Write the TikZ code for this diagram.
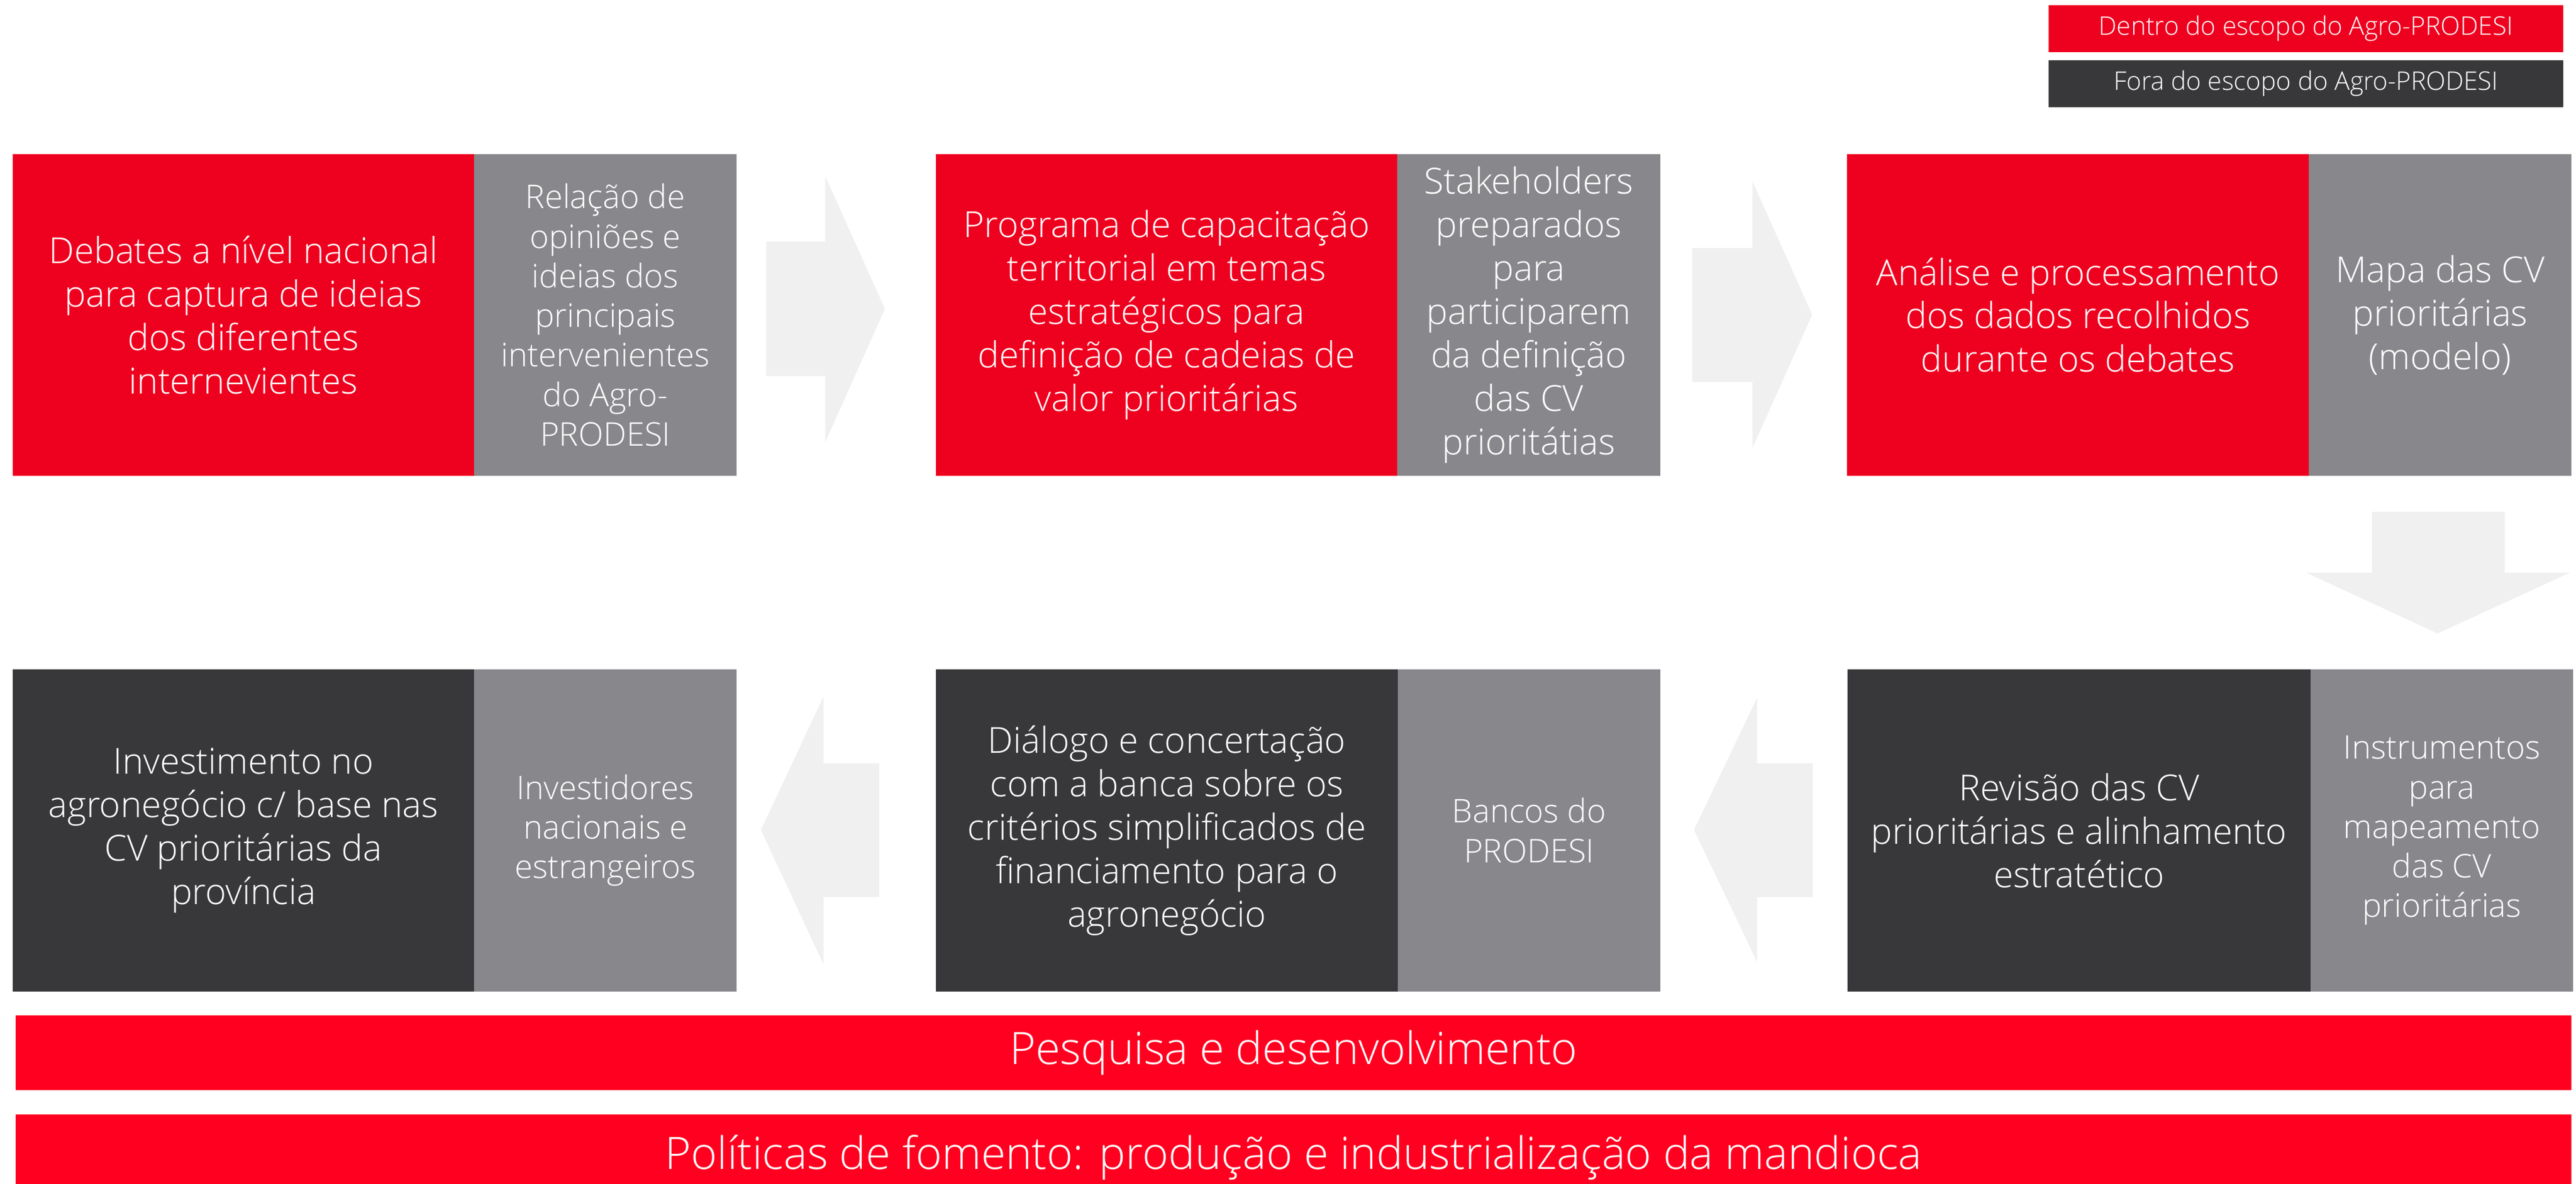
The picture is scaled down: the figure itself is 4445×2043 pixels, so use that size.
\documentclass[tikz,border=0pt]{standalone}
\usepackage{fontspec}
\IfFontExistsTF{Open Sans Light}{\setmainfont{Open Sans Light}}{\setmainfont{Open Sans}}
\definecolor{cred}{HTML}{EE001F}
\definecolor{cbar}{HTML}{FF0020}
\definecolor{cgray}{HTML}{88878B}
\definecolor{cdark}{HTML}{38383A}
\definecolor{carrow}{HTML}{F0F0F0}
\begin{document}
\begin{tikzpicture}[x=0.01cm,y=-0.01cm,
  base/.style={inner sep=0pt, outer sep=0pt, align=center, text=white},
  big/.style={font=\fontsize{17.6}{21.3}\selectfont},
  small/.style={font=\fontsize{16.0}{19.4}\selectfont},
  redbox/.style={base, big, fill=cred, minimum height=5.55cm},
  darkbox/.style={base, big, fill=cdark, minimum height=5.56cm},
  graybox/.style={base, big, fill=cgray},
  barbox/.style={base, fill=cbar, minimum width=44.08cm, font=\fontsize{21.9}{26}\selectfont},
  legbox/.style={base, minimum width=8.88cm, minimum height=0.81cm, font=\fontsize{12.55}{15}\selectfont},
  blockarrow/.style={fill=carrow, draw=none}]
\useasboundingbox (0,0) rectangle (4445,2043);

% legend
\node[legbox, fill=cred] (legin) at (3979,49.5) {Dentro do escopo do Agro-PRODESI};
\node[legbox, fill=cdark] (legout) at (3979,144.5) {Fora do escopo do Agro-PRODESI};

% top row
\node[redbox, minimum width=7.96cm] (r1) at (420,543.5) {Debates a nível nacional\\para captura de ideias\\dos diferentes\\internevientes};
\node[graybox, small, minimum width=4.53cm, minimum height=5.55cm] (g1) at (1044.5,543.5) {Relação de\\opiniões e\\ideias dos\\principais\\intervenientes\\do Agro-\\PRODESI};

\node[redbox, minimum width=7.96cm] (r2) at (2013,543.5) {Programa de capacitação\\territorial em temas\\estratégicos para\\definição de cadeias de\\valor prioritárias};
\node[graybox, minimum width=4.54cm, minimum height=5.55cm] (g2) at (2638,543.5) {Stakeholders\\preparados\\para\\participarem\\da definição\\das CV\\prioritátias};

\node[redbox, minimum width=7.97cm] (r3) at (3585.5,543.5) {Análise e processamento\\dos dados recolhidos\\durante os debates};
\node[graybox, minimum width=4.53cm, minimum height=5.55cm] (g3) at (4210.5,543.5) {Mapa das CV\\prioritárias\\(modelo)};

% bottom row
\node[darkbox, minimum width=7.96cm] (d1) at (420,1433) {Investimento no\\agronegócio c/ base nas\\CV prioritárias da\\província};
\node[graybox, small, minimum width=4.53cm, minimum height=5.56cm] (h1) at (1044.5,1433) {Investidores\\nacionais e\\estrangeiros};

\node[darkbox, minimum width=7.97cm] (d2) at (2013.5,1433) {Diálogo e concertação\\com a banca sobre os\\critérios simplificados de\\financiamento para o\\agronegócio};
\node[graybox, small, minimum width=4.53cm, minimum height=5.56cm] (h2) at (2638.5,1433) {Bancos do\\PRODESI};

\node[darkbox, minimum width=7.99cm] (d3) at (3587.5,1433) {Revisão das CV\\prioritárias e alinhamento\\estratético};
\node[graybox, small, minimum width=4.53cm, minimum height=5.56cm] (h3) at (4213.5,1433) {Instrumentos\\para\\mapeamento\\das CV\\prioritárias};

% bars
\node[barbox, minimum height=1.29cm] (bar1) at (2232,1816.5) {\raisebox{-0.08cm}{Pesquisa e desenvolvimento}};
\node[barbox, minimum height=1.48cm] (bar2) at (2232,1997) {Políticas de fomento: produção e industrialização da mandioca};

% block arrows
\fill[blockarrow] (1322,417) -- (1424,417) -- (1424,304) -- (1527,533) -- (1424,763) -- (1424,649) -- (1322,649) -- cycle;
\fill[blockarrow] (2920,428) -- (3024,428) -- (3024,313) -- (3127,543) -- (3024,773) -- (3024,659) -- (2920,659) -- cycle;
\fill[blockarrow] (4093,883) -- (4322,883) -- (4322,988) -- (4435,988) -- (4206,1093) -- (3979,988) -- (4093,988) -- cycle;
\fill[blockarrow] (1517,1317) -- (1421,1317) -- (1421,1202) -- (1313,1432) -- (1421,1664) -- (1421,1548) -- (1517,1548) -- cycle;
\fill[blockarrow] (3128,1317) -- (3032,1317) -- (3032,1204) -- (2923,1432) -- (3032,1660) -- (3032,1548) -- (3128,1548) -- cycle;
\end{tikzpicture}
\end{document}
